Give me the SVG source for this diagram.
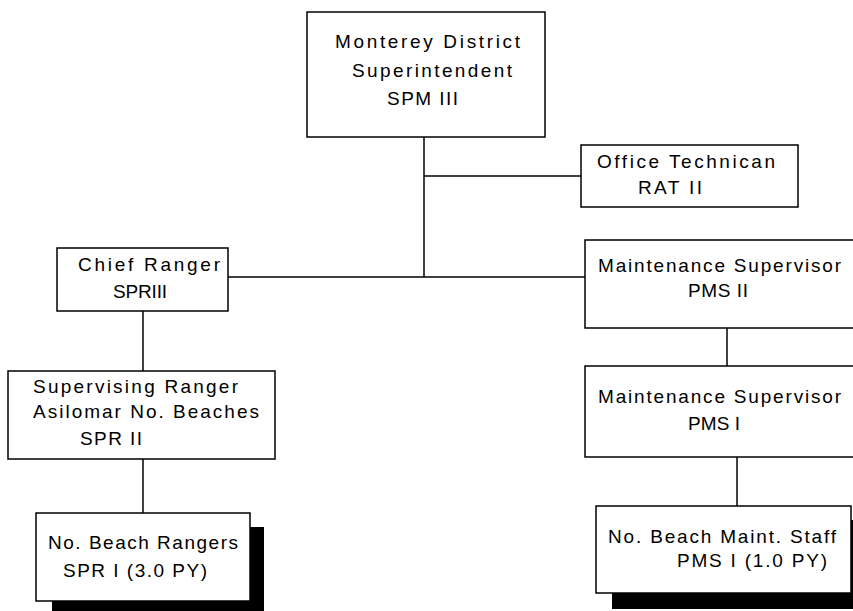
<svg xmlns="http://www.w3.org/2000/svg" width="853" height="611" viewBox="0 0 853 611">
<style>
.box{fill:#fff;stroke:#000;stroke-width:1.5}
.sh{fill:#000}
.ln{stroke:#000;stroke-width:1.5;fill:none}
text{font-family:"Liberation Sans",Arial,sans-serif;font-size:19px;fill:#000}
</style>
<rect width="853" height="611" fill="#fff"/>
<g id="connectors">
<line class="ln" x1="424" y1="137" x2="424" y2="277"/>
<line class="ln" x1="424" y1="176" x2="581" y2="176"/>
<line class="ln" x1="228" y1="277" x2="585" y2="277"/>
<line class="ln" x1="143" y1="311" x2="143" y2="371"/>
<line class="ln" x1="143" y1="459" x2="143" y2="513"/>
<line class="ln" x1="727" y1="328" x2="727" y2="366"/>
<line class="ln" x1="737" y1="457" x2="737" y2="506"/>
</g>
<g id="superintendent">
<rect class="box" x="307" y="12" width="238" height="125"/>
<text x="335" y="48" textLength="185" lengthAdjust="spacing">Monterey District</text>
<text x="352" y="77" textLength="160" lengthAdjust="spacing">Superintendent</text>
<text x="387" y="105" textLength="71" lengthAdjust="spacing">SPM III</text>
</g>
<g id="office-technician">
<rect class="box" x="581" y="145" width="217" height="62"/>
<text x="597" y="168" textLength="178" lengthAdjust="spacing">Office Technican</text>
<text x="638" y="194" textLength="64" lengthAdjust="spacing">RAT II</text>
</g>
<g id="chief-ranger">
<rect class="box" x="57" y="248" width="171" height="63"/>
<text x="78" y="271" textLength="142" lengthAdjust="spacing">Chief Ranger</text>
<text x="113" y="298" textLength="54" lengthAdjust="spacing">SPRIII</text>
</g>
<g id="supervising-ranger">
<rect class="box" x="8" y="371" width="267" height="88"/>
<text x="33" y="393" textLength="205" lengthAdjust="spacing">Supervising Ranger</text>
<text x="33" y="418" textLength="226" lengthAdjust="spacing">Asilomar No. Beaches</text>
<text x="80" y="445" textLength="62" lengthAdjust="spacing">SPR II</text>
</g>
<g id="beach-rangers">
<rect class="sh" x="52" y="527" width="212" height="84"/>
<rect class="box" x="36" y="513" width="214" height="88"/>
<text x="48" y="549" textLength="190" lengthAdjust="spacing">No. Beach Rangers</text>
<text x="63" y="577" textLength="144" lengthAdjust="spacing">SPR I (3.0 PY)</text>
</g>
<g id="maintenance-supervisor-2">
<rect class="box" x="585" y="240" width="290" height="88"/>
<text x="598" y="272" textLength="243" lengthAdjust="spacing">Maintenance Supervisor</text>
<text x="688" y="297" textLength="60" lengthAdjust="spacing">PMS II</text>
</g>
<g id="maintenance-supervisor-1">
<rect class="box" x="585" y="366" width="290" height="91"/>
<text x="598" y="403" textLength="243" lengthAdjust="spacing">Maintenance Supervisor</text>
<text x="688" y="430" textLength="52" lengthAdjust="spacing">PMS I</text>
</g>
<g id="beach-maint-staff">
<rect class="sh" x="612" y="520" width="245" height="89"/>
<rect class="box" x="596" y="506" width="255" height="87"/>
<text x="608" y="543" textLength="228" lengthAdjust="spacing">No. Beach Maint. Staff</text>
<text x="677" y="567" textLength="150" lengthAdjust="spacing">PMS I (1.0 PY)</text>
</g>
</svg>
